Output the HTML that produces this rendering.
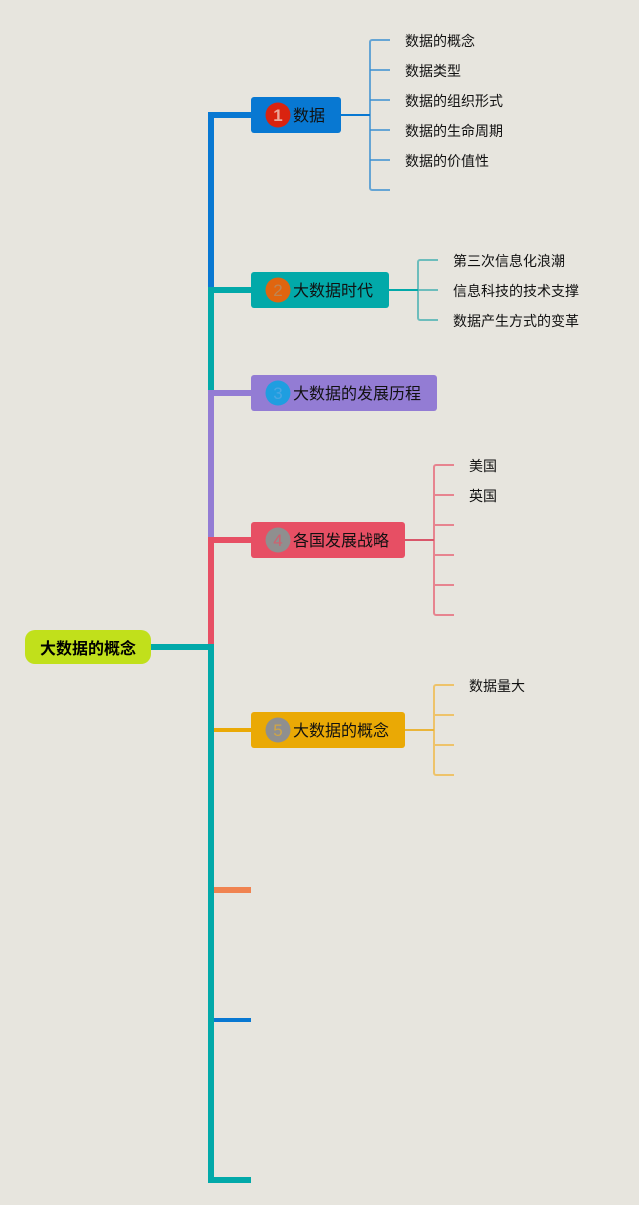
<!DOCTYPE html>
<html lang="zh">
<head>
<meta charset="utf-8">
<style>
html,body{margin:0;padding:0;background:#e7e5de;}
svg{display:block;}
text{font-family:"Liberation Sans","Noto Sans CJK SC",sans-serif;fill:#111;}
.l{font-size:14px;}
.n{font-size:16px;}
.d{font-size:17px;text-anchor:middle;}
</style>
</head>
<body>
<svg width="639" height="1205" viewBox="0 0 639 1205" xmlns="http://www.w3.org/2000/svg">
<rect width="639" height="1205" fill="#e7e5de"/>

<!-- trunk -->
<rect x="208" y="112" width="6" height="175" fill="#0878d2"/>
<rect x="208" y="287" width="6" height="103" fill="#02a9a9"/>
<rect x="208" y="390" width="6" height="147" fill="#937cd4"/>
<rect x="208" y="537" width="6" height="107" fill="#e74f64"/>
<rect x="208" y="644" width="6" height="539" fill="#02a9a9"/>

<!-- trunk branches -->
<rect x="208" y="112" width="43" height="6" fill="#0878d2"/>
<rect x="208" y="287" width="43" height="6" fill="#02a9a9"/>
<rect x="208" y="390" width="43" height="6" fill="#937cd4"/>
<rect x="208" y="537" width="43" height="6" fill="#e74f64"/>
<rect x="214" y="728" width="37" height="4" fill="#eaa905"/>
<rect x="214" y="887" width="37" height="6" fill="#f08350"/>
<rect x="214" y="1018" width="37" height="4" fill="#0878d2"/>
<rect x="208" y="1177" width="43" height="6" fill="#02a9a9"/>
<rect x="151" y="644" width="57" height="6" fill="#02a9a9"/>

<!-- root -->
<rect x="25" y="630" width="126" height="34" rx="10" fill="#c1e01b"/>
<text x="40" y="654" style="font-size:16px;font-weight:bold;fill:#000">大数据的概念</text>

<!-- node 1 -->
<g fill="none" stroke="#3b8fd0" stroke-opacity=".75" stroke-width="2">
<path d="M390 40H372a2 2 0 0 0-2 2V188a2 2 0 0 0 2 2H390"/>
<path d="M370 70H390M370 100H390M370 130H390M370 160H390"/>
</g>
<rect x="341" y="114" width="29" height="2" fill="#0878d2"/>
<rect x="251" y="97" width="90" height="36" rx="3" fill="#0878d2"/>
<circle cx="278" cy="115" r="12.5" fill="#d9230f"/>
<text class="d" x="278" y="121" style="fill:#eba89a;font-weight:bold">1</text>
<text class="n" x="293" y="121">数据</text>
<text class="l" x="405" y="46">数据的概念</text>
<text class="l" x="405" y="76">数据类型</text>
<text class="l" x="405" y="106">数据的组织形式</text>
<text class="l" x="405" y="136">数据的生命周期</text>
<text class="l" x="405" y="166">数据的价值性</text>

<!-- node 2 -->
<g fill="none" stroke="#4fb3b3" stroke-opacity=".8" stroke-width="2">
<path d="M438 260H420a2 2 0 0 0-2 2V318a2 2 0 0 0 2 2H438"/>
<path d="M418 290H438"/>
</g>
<rect x="389" y="289" width="29" height="2" fill="#02a9a9"/>
<rect x="251" y="272" width="138" height="36" rx="3" fill="#02a9a9"/>
<circle cx="278" cy="290" r="12.5" fill="#e0650f"/>
<text class="d" x="278" y="296" style="fill:#bd8554">2</text>
<text class="n" x="293" y="296">大数据时代</text>
<text class="l" x="453" y="266">第三次信息化浪潮</text>
<text class="l" x="453" y="296">信息科技的技术支撑</text>
<text class="l" x="453" y="326">数据产生方式的变革</text>

<!-- node 3 -->
<rect x="251" y="375" width="186" height="36" rx="3" fill="#937cd4"/>
<circle cx="278" cy="393" r="12.5" fill="#1f9ee0"/>
<text class="d" x="278" y="399" style="fill:#4aa6e2">3</text>
<text class="n" x="293" y="399">大数据的发展历程</text>

<!-- node 4 -->
<g fill="none" stroke="#e7848f" stroke-width="2">
<path d="M454 465H436a2 2 0 0 0-2 2V613a2 2 0 0 0 2 2H454"/>
<path d="M434 495H454M434 525H454M434 555H454M434 585H454"/>
</g>
<rect x="405" y="539" width="29" height="2" fill="#d9566a"/>
<rect x="251" y="522" width="154" height="36" rx="3" fill="#e74f64"/>
<circle cx="278" cy="540" r="12.5" fill="#8f8f8f"/>
<text class="d" x="278" y="546" style="fill:#d05f6e">4</text>
<text class="n" x="293" y="546">各国发展战略</text>
<text class="l" x="469" y="471">美国</text>
<text class="l" x="469" y="501">英国</text>

<!-- node 5 -->
<g fill="none" stroke="#eec36a" stroke-width="2">
<path d="M454 685H436a2 2 0 0 0-2 2V773a2 2 0 0 0 2 2H454"/>
<path d="M434 715H454M434 745H454"/>
</g>
<rect x="405" y="729" width="29" height="2" fill="#eab53a"/>
<rect x="251" y="712" width="154" height="36" rx="3" fill="#eaa905"/>
<circle cx="278" cy="730" r="12.5" fill="#8f8f8f"/>
<text class="d" x="278" y="736" style="fill:#d0a545">5</text>
<text class="n" x="293" y="736">大数据的概念</text>
<text class="l" x="469" y="691">数据量大</text>
</svg>
</body>
</html>
